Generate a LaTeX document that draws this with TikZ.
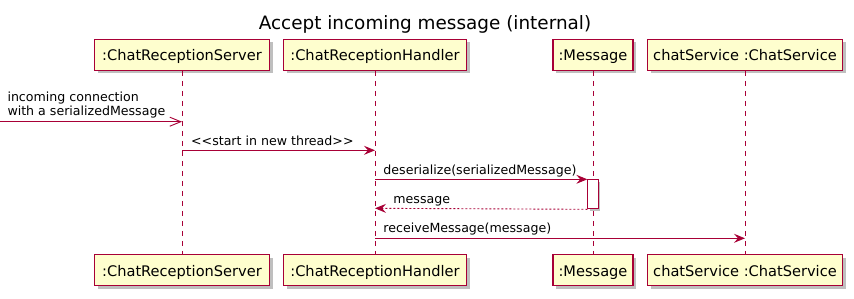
\documentclass[tikz,border=0pt]{standalone}
\usepackage{fontspec}
\setmainfont{DejaVu Sans}
\usetikzlibrary{arrows.meta,shadows}
\definecolor{umlred}{HTML}{A80036}
\definecolor{umlfill}{HTML}{FEFECE}
\begin{document}
\begin{tikzpicture}[x=1pt,y=-1pt,
  actor/.style={draw=umlred, line width=1.2pt, fill=umlfill,
    minimum height=31pt, inner sep=0pt, text height=14pt, text depth=2.2pt,
    font=\fontsize{14.6}{17}\selectfont,
    drop shadow={shadow xshift=3pt, shadow yshift=-3pt, opacity=0.25, fill=black}},
  lifeline/.style={draw=umlred, line width=0.9pt, dash pattern=on 5pt off 5pt},
  activation/.style={draw=umlred, line width=1pt, fill=white, inner sep=0pt,
    minimum width=10.4pt, minimum height=29pt,
    drop shadow={shadow xshift=2pt, shadow yshift=-2pt, opacity=0.25, fill=black}},
  msg/.style={draw=umlred, line width=0.9pt, -{Stealth[length=11pt,width=9pt,inset=4pt]}},
  reply/.style={msg, dash pattern=on 2pt off 2pt},
  found/.style={draw=umlred, line width=0.9pt, -{Straight Barb[length=11pt,width=9pt]}},
  lbl/.style={font=\fontsize{12.6}{14.3}\selectfont, inner sep=0pt, anchor=base west},
]
\useasboundingbox (0,0) rectangle (854,298);

% title
\node[font=\fontsize{18.4}{22}\selectfont, anchor=base, inner sep=0pt] (title) at (425,29.3)
  {Accept incoming message (internal)};

% participants, top row
\node[actor, minimum width=175pt] (srvT) at (182,54.8) {:ChatReceptionServer};
\node[actor, minimum width=183pt] (hndT) at (375,54.8) {:ChatReceptionHandler};
\node[actor, minimum width=80pt]  (msgT) at (593,54.8) {:Message};
\node[actor, minimum width=195pt] (svcT) at (745,54.8) {chatService :ChatService};

% participants, bottom row
\node[actor, minimum width=175pt] (srvB) at (182,270.3) {:ChatReceptionServer};
\node[actor, minimum width=183pt] (hndB) at (375,270.3) {:ChatReceptionHandler};
\node[actor, minimum width=80pt]  (msgB) at (593,270.3) {:Message};
\node[actor, minimum width=195pt] (svcB) at (745,270.3) {chatService :ChatService};

% lifelines
\draw[lifeline] (srvT.south) -- (srvB.north);
\draw[lifeline] (hndT.south) -- (hndB.north);
\draw[lifeline] (msgT.south) -- (msgB.north);
\draw[lifeline] (svcT.south) -- (svcB.north);

% message rows
\coordinate (r1) at (0,121.7);
\coordinate (r2) at (0,150.3);
\coordinate (r3) at (0,179.3);
\coordinate (r4) at (0,208.3);
\coordinate (r5) at (0,238.3);
\coordinate (in) at (0,121.7);

% activation of :Message
\node[activation, anchor=north] (act) at (msgT |- r3) {};

% incoming connection
\draw[found] (in) -- (srvT |- r1);
\node[font=\fontsize{12.6}{14.3}\selectfont, inner sep=0pt, align=left, anchor=south west]
  (inlbl) at (7.3,118.2) {incoming connection\\with a serializedMessage};

\draw[msg] (srvT |- r2) -- (hndT |- r2)
  node[lbl, pos=0, xshift=8.7pt, yshift=4.6pt] {<{}<start in new thread>{}>};
\draw[msg] (hndT |- r3) -- (act.north west)
  node[lbl, pos=0, xshift=8pt, yshift=4.6pt] {deserialize(serializedMessage)};
\draw[reply] (act.south west) -- (hndT |- r4)
  node[lbl, pos=1, xshift=18pt, yshift=5pt] {message};
\draw[msg] (hndT |- r5) -- (svcT |- r5)
  node[lbl, pos=0, xshift=8pt, yshift=5.4pt] {receiveMessage(message)};
\end{tikzpicture}
\end{document}
